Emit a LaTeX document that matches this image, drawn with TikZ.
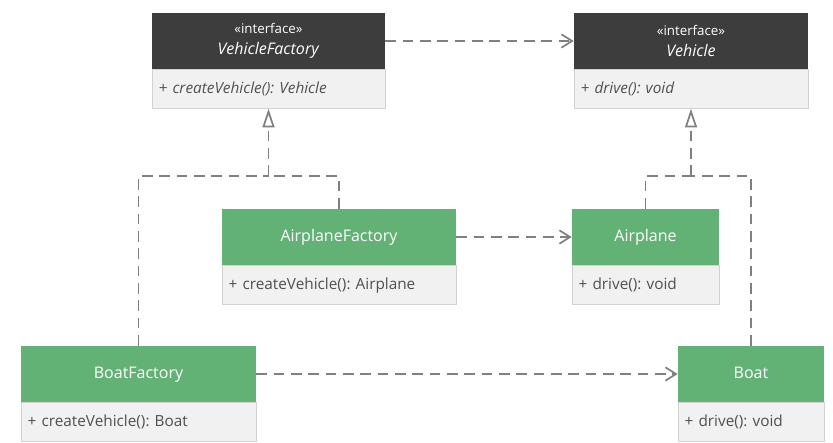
\documentclass[tikz,border=0pt]{standalone}
\usepackage{fontspec}
\setmainfont{Open Sans}
\usepackage{xcolor}
\usepackage{tikz}
\usetikzlibrary{arrows.meta,positioning}

\definecolor{headdark}{HTML}{3D3D3D}
\definecolor{headgreen}{HTML}{62B175}
\definecolor{bodygray}{HTML}{F1F1F1}
\definecolor{bordergray}{HTML}{D2D2D2}
\definecolor{linegray}{HTML}{808080}
\definecolor{textgray}{HTML}{505050}

\frenchspacing

\tikzset{
  classhead/.style={minimum height=42pt, inner sep=0pt, align=center, text=white, font=\fontsize{12}{13}\selectfont},
  ifacehead/.style={classhead, fill=headdark},
  implhead/.style={classhead, fill=headgreen, text height=9pt, text depth=3pt},
  classbody/.style={draw=bordergray, fill=bodygray, minimum height=29.25pt, inner xsep=5pt, inner ysep=0pt, align=left, text=textgray, font=\fontsize{11.5}{13}\selectfont},
  depline/.style={linegray, line width=1.3pt, dash pattern=on 8pt off 5pt, -{Straight Barb[length=8pt,width=10pt,line width=1.3pt]}},
  realline/.style={linegray, line width=1.3pt, dash pattern=on 8pt off 5pt},
}

\begin{document}
\begin{tikzpicture}[x=0.75pt, y=-0.75pt]

  \useasboundingbox (0,0) rectangle (833,443);

  % interfaces
  \node[ifacehead, minimum width=174.75pt] (vfhead) at (268.5,41) {{\fontsize{10}{11}\selectfont «interface»}\\[3pt] \textit{VehicleFactory}};
  \node[classbody, minimum width=174.75pt, text width=164.75pt, below=0pt of vfhead] (vfbody) {\textit{+ createVehicle(): Vehicle}};

  \node[ifacehead, minimum width=175.5pt] (vhead) at (691,41) {{\fontsize{10}{11}\selectfont «interface»}\\[3pt] \textit{Vehicle}};
  \node[classbody, minimum width=175.5pt, text width=165.5pt, below=0pt of vhead] (vbody) {\textit{+ drive(): void}};

  % implementations
  \node[implhead, minimum width=175.5pt] (afhead) at (339,237) {AirplaneFactory};
  \node[classbody, minimum width=175.5pt, text width=165.5pt, below=0pt of afhead] (afbody) {+ createVehicle(): Airplane};

  \node[implhead, minimum width=110.25pt] (ahead) at (645.5,237) {Airplane};
  \node[classbody, minimum width=110.25pt, text width=100.25pt, below=0pt of ahead] (abody) {+ drive(): void};

  \node[implhead, minimum width=176.25pt] (bfhead) at (138.5,374) {BoatFactory};
  \node[classbody, minimum width=176.25pt, text width=166.25pt, below=0pt of bfhead] (bfbody) {+ createVehicle(): Boat};

  \node[implhead, minimum width=109.5pt] (bhead) at (751,374) {Boat};
  \node[classbody, minimum width=109.5pt, text width=99.5pt, below=0pt of bhead] (bbody) {+ drive(): void};

  % dependencies
  \draw[depline] (vfhead.east) -- (vhead.west);
  \draw[depline] (afhead.east) -- (ahead.west);
  \draw[depline] (bfhead.east) -- (bhead.west);

  % realizations
  \coordinate (vfjoin) at (268.5,176);
  \coordinate (vjoin) at (691,176);
  \draw[realline] (bfhead.north) |- (vfjoin);
  \draw[realline] (afhead.north) |- (vfjoin);
  \draw[realline, -{Triangle[fill=white, length=14pt, width=9pt, line width=1.3pt]}] (vfjoin) -- (vfbody.south);
  \draw[realline] (ahead.north) |- (vjoin);
  \draw[realline] (bhead.north) |- (vjoin);
  \draw[realline, -{Triangle[fill=white, length=14pt, width=9pt, line width=1.3pt]}] (vjoin) -- (vbody.south);

\end{tikzpicture}
\end{document}
